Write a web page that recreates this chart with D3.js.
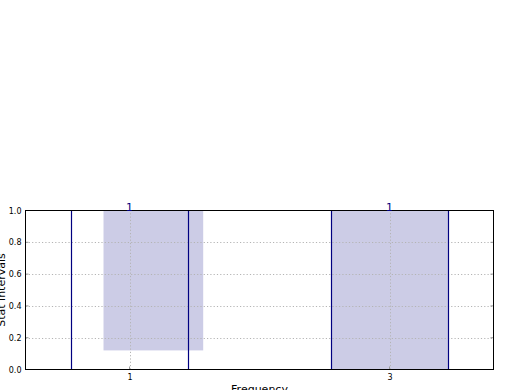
<!DOCTYPE html>
<html>
<head>
<meta charset="utf-8">
<script src="https://cdn.jsdelivr.net/npm/d3@7"></script>
<style>
  body { margin: 0; background: #fff; }
  text { font-family: "DejaVu Sans", sans-serif; }
</style>
</head>
<body>
<svg width="520" height="390"></svg>
<script>
// data
const categories = [1, 3];
const counts = [1, 1];
const lineLow = [0.55, 2.55];
const lineHigh = [1.45, 3.45];
const boxLow = [0.8, 2.55];
const boxHigh = [1.567, 3.45];
const boxBottom = [0.12, 0.0];
const boxTop = [1.0, 1.0];
const yTicks = [0, 0.2, 0.4, 0.6, 0.8, 1.0];

const svg = d3.select("svg");
const width = +svg.attr("width");
const height = +svg.attr("height");
const margin = { left: 25.5, right: 26.5, top: 210.5, bottom: 20.5 };
const navy = "#000080";

const x = d3.scaleLinear().domain([0.2, 3.8]).range([margin.left, width - margin.right]);
const y = d3.scaleLinear().domain([0, 1]).range([height - margin.bottom, margin.top]);

const rows = categories.map((c, i) => ({
  cat: c, count: counts[i],
  lo: lineLow[i], hi: lineHigh[i],
  bx0: boxLow[i], bx1: boxHigh[i], by0: boxBottom[i], by1: boxTop[i]
}));

// shaded intervals
svg.selectAll("rect.box")
  .data(rows)
  .enter()
  .append("rect")
  .attr("class", "box")
  .attr("x", d => x(d.bx0))
  .attr("width", d => x(d.bx1) - x(d.bx0))
  .attr("y", d => y(d.by1))
  .attr("height", d => y(d.by0) - y(d.by1))
  .attr("fill", navy)
  .attr("fill-opacity", 0.2);

// grid
const grid = svg.append("g").attr("stroke", "#b4b4b4").attr("stroke-dasharray", "1.2,2.1");
grid.selectAll("line.h")
  .data(yTicks.slice(1, -1))
  .enter()
  .append("line")
  .attr("x1", x.range()[0]).attr("x2", x.range()[1])
  .attr("y1", d => Math.round(y(d)) + 0.5).attr("y2", d => Math.round(y(d)) + 0.5);
grid.selectAll("line.v")
  .data(categories)
  .enter()
  .append("line")
  .attr("y1", y.range()[0]).attr("y2", y.range()[1])
  .attr("x1", d => Math.round(x(d)) + 0.5).attr("x2", d => Math.round(x(d)) + 0.5);

// interval bounds
const bounds = rows.flatMap(d => [d.lo, d.hi]);
svg.selectAll("line.bound")
  .data(bounds)
  .enter()
  .append("line")
  .attr("x1", d => Math.round(x(d)) + 0.5).attr("x2", d => Math.round(x(d)) + 0.5)
  .attr("y1", y(0)).attr("y2", y(1))
  .attr("stroke", navy)
  .attr("stroke-width", 1.2);

// axes
const xAxis = d3.axisBottom(x).tickValues(categories).tickSize(0).tickPadding(5).tickFormat(d3.format("d"));
const yAxis = d3.axisLeft(y).tickValues(yTicks).tickSize(0).tickPadding(4).tickFormat(d3.format(".1f"));

const gx = svg.append("g").attr("transform", `translate(0,${y(0)})`).call(xAxis);
const gy = svg.append("g").attr("transform", `translate(${x.range()[0]},0)`).call(yAxis);
[gx, gy].forEach(g => {
  g.select(".domain").remove();
  g.selectAll("text").attr("font-size", 8).attr("fill", "#000")
    .style("font-family", "DejaVu Sans, sans-serif");
});

// small gray tick marks inside the frame
const tickMarks = svg.append("g").attr("stroke", "#999");
tickMarks.selectAll("line.yl").data(yTicks).enter().append("line")
  .attr("x1", x.range()[0]).attr("x2", x.range()[0] + 3)
  .attr("y1", d => y(d)).attr("y2", d => y(d));
tickMarks.selectAll("line.yr").data(yTicks).enter().append("line")
  .attr("x1", x.range()[1]).attr("x2", x.range()[1] - 3)
  .attr("y1", d => y(d)).attr("y2", d => y(d));
tickMarks.selectAll("line.xb").data(categories).enter().append("line")
  .attr("x1", d => x(d)).attr("x2", d => x(d))
  .attr("y1", y(0)).attr("y2", y(0) - 3);

// frame
svg.append("rect")
  .attr("x", x.range()[0]).attr("y", y.range()[1])
  .attr("width", x.range()[1] - x.range()[0])
  .attr("height", y.range()[0] - y.range()[1])
  .attr("fill", "none").attr("stroke", "#000").attr("stroke-width", 1);

// count labels
svg.selectAll("text.count")
  .data(rows)
  .enter()
  .append("text")
  .attr("x", d => x(d.cat))
  .attr("y", y(1) + 0.5)
  .attr("text-anchor", "middle")
  .attr("font-size", 11)
  .attr("fill", navy)
  .text(d => d.count);

// axis titles
svg.append("text")
  .attr("x", (x.range()[0] + x.range()[1]) / 2)
  .attr("y", 393)
  .attr("text-anchor", "middle")
  .attr("font-size", 11)
  .text("Frequency");
svg.append("text")
  .attr("transform", `translate(5,${(y.range()[0] + y.range()[1]) / 2}) rotate(-90)`)
  .attr("text-anchor", "middle")
  .attr("font-size", 11)
  .text("Stat intervals");
</script>
</body>
</html>
